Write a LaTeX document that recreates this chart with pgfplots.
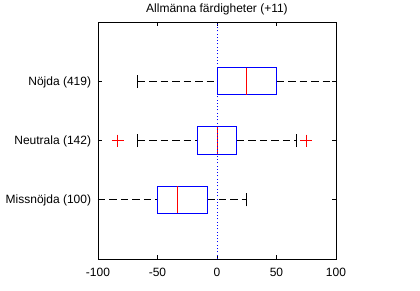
\documentclass[border=0pt]{standalone}
\usepackage{pgfplots}
\pgfplotsset{compat=1.18}
\usepgfplotslibrary{statistics}
\usepackage{fontspec}
\setmainfont{Liberation Sans}

\begin{document}
\begin{tikzpicture}[font=\fontsize{12bp}{14bp}\selectfont]
\path[use as bounding box] (-98bp,-32bp) rectangle (322bp,259bp);
\begin{axis}[
  at={(0,0)}, anchor=south west,
  scale only axis, width=238bp, height=237bp,
  line width=0.9bp,
  xmin=-100, xmax=100, ymin=0, ymax=4,
  xtick={-100,-50,0,50,100},
  ytick={1,2,3},
  yticklabels={Missnöjda (100),Neutrala (142),Nöjda (419)},
  tick align=inside,
  major tick length=4bp,
  tick style={black, line width=0.9bp},
  /pgf/number format/assume math mode=true,
  xticklabel style={anchor=base, yshift=-17bp, inner sep=0pt},
  yticklabel style={anchor=base east, inner sep=0pt, xshift=-6.5bp, yshift=-4bp},
  title={Allmänna färdigheter (+11)},
  every axis title shift=0pt,
  title style={at={(0.5,1)}, anchor=base, yshift=9.5bp, inner sep=0pt},
  boxplot/draw direction=x,
  boxplot/box extend=0.46,
  boxplot/whisker extend=0.22,
  boxplot/every box/.style={draw=blue, fill=none, solid},
  boxplot/every median/.style={draw=red, solid},
  boxplot/every whisker/.style={black, dash pattern=on 7.5bp off 4bp},
  boxplot/draw/lower whisker/.code={
    \draw[/pgfplots/boxplot/every whisker/.try]
      (boxplot cs:\pgfplotsboxplotvalue{lower whisker}) -- (boxplot cs:\pgfplotsboxplotvalue{lower quartile});
    \draw[black, solid]
      (boxplot whisker cs:\pgfplotsboxplotvalue{lower whisker},0) -- (boxplot whisker cs:\pgfplotsboxplotvalue{lower whisker},1);
  },
  boxplot/draw/upper whisker/.code={
    \draw[/pgfplots/boxplot/every whisker/.try]
      (boxplot cs:\pgfplotsboxplotvalue{upper quartile}) -- (boxplot cs:\pgfplotsboxplotvalue{upper whisker});
    \draw[black, solid]
      (boxplot whisker cs:\pgfplotsboxplotvalue{upper whisker},0) -- (boxplot whisker cs:\pgfplotsboxplotvalue{upper whisker},1);
  },
]
% Missnöjda (100)
\addplot[boxplot prepared={draw position=1,
  lower whisker=-100, lower quartile=-50, median=-33.3,
  upper quartile=-8.3, upper whisker=25}] coordinates {};
% Neutrala (142)
\addplot[boxplot prepared={draw position=2,
  lower whisker=-66.7, lower quartile=-16.7, median=0,
  upper quartile=16.7, upper whisker=66.7},
  mark=+, mark size=6bp, mark options={red, solid, line width=0.9bp}]
  table[row sep=\\, y index=0] {data\\ -83.3\\ 75\\};
% Nöjda (419)
\addplot[boxplot prepared={draw position=3,
  lower whisker=-66.7, lower quartile=0, median=25,
  upper quartile=50, upper whisker=100}] coordinates {};
% zero reference line
\addplot[blue, line width=0.9bp, dash pattern=on 1bp off 2.3bp] coordinates {(0,0) (0,4)};
\end{axis}
\end{tikzpicture}
\end{document}
